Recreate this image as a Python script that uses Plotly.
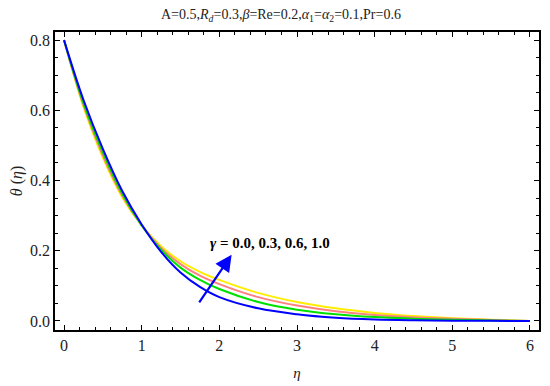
import plotly.graph_objects as go

eta = [0, 0.25, 0.5, 0.75, 1.0, 1.25, 1.5, 1.75, 2.0, 2.5, 3.0, 3.5, 4.0, 4.5, 5.0, 5.5, 6.0]
theta_g00 = [0.8, 0.63, 0.49, 0.37, 0.275, 0.197, 0.138, 0.097, 0.068, 0.036, 0.019, 0.009, 0.004, 0.0018, 0.0008, 0.0003, 0.0]
theta_g03 = [0.8, 0.62, 0.48, 0.362, 0.272, 0.203, 0.152, 0.117, 0.091, 0.054, 0.032, 0.019, 0.011, 0.0065, 0.0035, 0.0015, 0.0]
theta_g06 = [0.8, 0.615, 0.472, 0.357, 0.272, 0.208, 0.162, 0.129, 0.105, 0.068, 0.044, 0.028, 0.017, 0.0105, 0.006, 0.0028, 0.0]
theta_g10 = [0.8, 0.61, 0.465, 0.352, 0.272, 0.213, 0.17, 0.14, 0.117, 0.08, 0.054, 0.036, 0.023, 0.014, 0.008, 0.0038, 0.0]

series = [
    ("γ = 0.0", theta_g00, "#0000ff"),
    ("γ = 0.3", theta_g03, "#00e000"),
    ("γ = 0.6", theta_g06, "#ff8080"),
    ("γ = 1.0", theta_g10, "#ffee00"),
]

FONT = "Liberation Serif"

fig = go.Figure()
for name, ys, col in reversed(series):
    fig.add_trace(go.Scatter(x=eta, y=ys, mode="lines", name=name,
                             line=dict(color=col, width=2, shape="spline", smoothing=1.0),
                             showlegend=False))

axis_common = dict(showgrid=False, zeroline=False, showline=True, linecolor="black",
                   linewidth=1.5, mirror="allticks", ticks="inside", ticklen=5,
                   tickcolor="black", tickwidth=1.2, automargin=False,
                   tickfont=dict(family=FONT, size=16, color="#222"))

fig.update_xaxes(range=[-0.116, 6.116], tickvals=[0, 1, 2, 3, 4, 5, 6],
                 minor=dict(dtick=0.2, ticks="inside", ticklen=3, tickcolor="black", tickwidth=1),
                 title=dict(text="<i>η</i>", font=dict(family=FONT, size=15, color="#222"), standoff=15),
                 **axis_common)
fig.update_yaxes(range=[-0.0257, 0.823], tickvals=[0.0, 0.2, 0.4, 0.6, 0.8],
                 ticktext=["0.0", "0.2", "0.4", "0.6", "0.8"],
                 minor=dict(dtick=0.05, ticks="inside", ticklen=3, tickcolor="black", tickwidth=1),
                 title=dict(text="<i>θ</i> (<i>η</i>)", font=dict(family=FONT, size=16, color="#222"), standoff=12),
                 **axis_common)

fig.add_annotation(x=2.158, y=0.1886, ax=1.728, ay=0.049, xref="x", yref="y",
                   axref="x", ayref="y", showarrow=True, arrowhead=2, arrowsize=1.5,
                   arrowwidth=2.2, arrowcolor="#0000ff", text="")
fig.add_annotation(x=1.853, y=0.222, xref="x", yref="y", showarrow=False,
                   xanchor="left", yanchor="middle",
                   text="<b><i>γ</i> = 0.0, 0.3, 0.6, 1.0</b>",
                   font=dict(family=FONT, size=15, color="black"))

fig.add_annotation(xref="paper", yref="paper", x=(281 - 55) / 484, y=1 + (32 - 15) / 298,
                   xanchor="center", yanchor="middle", showarrow=False,
                   text="A=0.5,<i>R</i><sub><i>d</i></sub>=0.3,<i>β</i>=Re=0.2,<i>α</i><sub>1</sub>=<i>α</i><sub>2</sub>=0.1,Pr=0.6",
                   font=dict(family=FONT, size=14, color="#222"))

# page body has an 8px default margin, so the figure is 8px smaller and offset
fig.update_layout(width=542, height=378, margin=dict(l=47, r=11, t=24, b=56, autoexpand=False),
                  plot_bgcolor="white", paper_bgcolor="white")

fig.write_html("out.html")
